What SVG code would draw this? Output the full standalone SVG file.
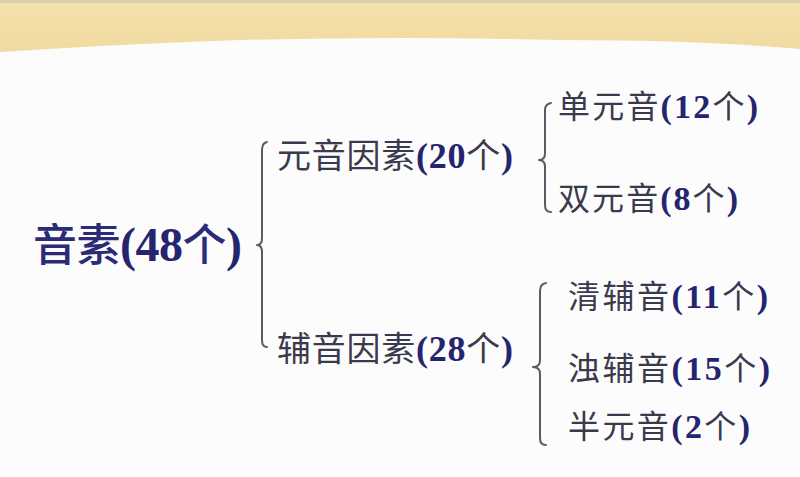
<svg xmlns="http://www.w3.org/2000/svg" width="800" height="477" viewBox="0 0 800 477">
  <defs>
    <linearGradient id="band" x1="0" y1="0" x2="0" y2="1">
      <stop offset="0" stop-color="#f4e2ad"/>
      <stop offset="1" stop-color="#f0da9f"/>
    </linearGradient>
  </defs>
  <style>
    text { font-family: "Liberation Serif", "Noto Sans CJK SC", serif; }
    .cn { fill: #3a3a4c; font-weight: normal; }
    .num { fill: #25256f; font-weight: bold; }
    .main .cn { fill: #2b2b78; font-weight: 500; }
    .l2 { font-size: 34px; }
    .l2 .num { font-size: 36px; }
    .l3 { font-size: 32px; }
    .l3 .num { font-size: 34px; }
    .main { font-size: 44px; }
    .main .num { font-size: 48px; }
    .brace { fill: none; stroke: #5a5a66; stroke-width: 2; stroke-linecap: round; stroke-linejoin: round; }
  </style>
  <rect x="0" y="0" width="800" height="477" fill="#fcfcfd"/>
  <g id="header">
    <rect x="0" y="0" width="800" height="3" fill="#d9cfae"/>
    <path d="M0,3 H800 V49 Q700,40 560,40 Q400,36 240,40 Q120,44 0,52 Z" fill="url(#band)"/>
  </g>
  <g id="connectors">
    <path class="brace" d="M267,142 Q262,143 262,150 L262,238 Q262,245 257,245 Q262,245 262,252 L262,340 Q262,347 267,347"/>
    <path class="brace" d="M551,103 Q545,104 545,110 L545,153 Q545,160 539,160 Q545,160 545,167 L545,205 Q545,212 551,212"/>
    <path class="brace" d="M546,283 Q540,284 540,291 L540,360 Q540,367 533,367 Q540,367 540,374 L540,438 Q540,445 546,445"/>
  </g>
  <g id="node-root">
    <text class="main" x="33" y="261" textLength="209" lengthAdjust="spacing"><tspan class="cn">音素</tspan><tspan class="num">(48</tspan><tspan class="cn">个</tspan><tspan class="num">)</tspan></text>
  </g>
  <g id="node-vowel">
    <text class="l2" x="277" y="168" textLength="236" lengthAdjust="spacing"><tspan class="cn">元音因素</tspan><tspan class="num">(20</tspan><tspan class="cn">个</tspan><tspan class="num">)</tspan></text>
  </g>
  <g id="node-consonant">
    <text class="l2" x="277" y="361" textLength="236" lengthAdjust="spacing"><tspan class="cn">辅音因素</tspan><tspan class="num">(28</tspan><tspan class="cn">个</tspan><tspan class="num">)</tspan></text>
  </g>
  <g id="node-monophthong">
    <text class="l3" x="558" y="118" textLength="200" lengthAdjust="spacing"><tspan class="cn">单元音</tspan><tspan class="num">(12</tspan><tspan class="cn">个</tspan><tspan class="num">)</tspan></text>
  </g>
  <g id="node-diphthong">
    <text class="l3" x="558" y="210" textLength="180" lengthAdjust="spacing"><tspan class="cn">双元音</tspan><tspan class="num">(8</tspan><tspan class="cn">个</tspan><tspan class="num">)</tspan></text>
  </g>
  <g id="node-voiceless">
    <text class="l3" x="568" y="308" textLength="200" lengthAdjust="spacing"><tspan class="cn">清辅音</tspan><tspan class="num">(11</tspan><tspan class="cn">个</tspan><tspan class="num">)</tspan></text>
  </g>
  <g id="node-voiced">
    <text class="l3" x="568" y="380" textLength="202" lengthAdjust="spacing"><tspan class="cn">浊辅音</tspan><tspan class="num">(15</tspan><tspan class="cn">个</tspan><tspan class="num">)</tspan></text>
  </g>
  <g id="node-semivowel">
    <text class="l3" x="568" y="438" textLength="182" lengthAdjust="spacing"><tspan class="cn">半元音</tspan><tspan class="num">(2</tspan><tspan class="cn">个</tspan><tspan class="num">)</tspan></text>
  </g>
</svg>
